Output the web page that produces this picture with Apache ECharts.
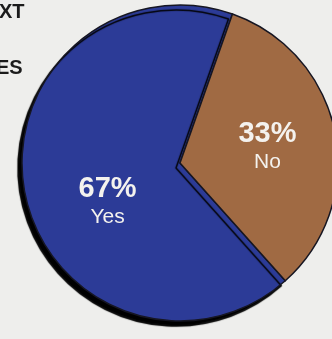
<!DOCTYPE html>
<html>
<head>
<meta charset="utf-8">
<style>
  html, body { margin: 0; padding: 0; background: #EEEEEC; }
  #chart { width: 332px; height: 339px; }
</style>
<script src="https://cdn.jsdelivr.net/npm/echarts@6/dist/echarts.min.js"></script>
</head>
<body>
<div id="chart"></div>
<script>
// Survey answers
const categories = ['Yes', 'No'];
const shares = [67, 33];
const sliceColors = ['#2C3B97', '#A06A43'];
// per-slice nudge of the label block inside its slice
const labelNudge = [[8, 22], [7, -1]];

const chart = echarts.init(document.getElementById('chart'), null, { renderer: 'canvas' });

const font = '"Liberation Sans", Arial, Helvetica, sans-serif';

chart.setOption({
  backgroundColor: '#EEEEEC',
  animation: false,
  graphic: [
    { type: 'text', left: -1, top: 2,
      style: { text: 'XT', fill: '#1b1b1b', font: 'bold 20px ' + font } },
    { type: 'text', left: -4, top: 58,
      style: { text: 'ES', fill: '#1b1b1b', font: 'bold 20px ' + font } }
  ],
  series: [{
    type: 'pie',
    center: [180, 163],
    radius: 158,
    startAngle: -48.2,
    clockwise: true,
    silent: true,
    itemStyle: {
      borderColor: '#161622',
      borderWidth: 1.5
    },
    label: {
      position: 'inside',
      formatter: p => '{pct|' + p.value + '%}\n{name|' + p.name + '}',
      rich: {
        pct: { fontFamily: font, fontWeight: 'bold', fontSize: 29, color: '#F4F2EE', lineHeight: 32, align: 'center' },
        name: { fontFamily: font, fontSize: 21, color: '#F4F2EE', lineHeight: 24, align: 'center' }
      }
    },
    labelLine: { show: false },
    data: categories.map((name, i) => ({
      name: name,
      value: shares[i],
      // the large slice is drawn first and carries the drop shadow,
      // so the smaller slice painted after it hides the shadow's inner edge
      itemStyle: i === 0
        ? { color: sliceColors[i], shadowColor: '#000', shadowBlur: 1, shadowOffsetX: -4, shadowOffsetY: 5 }
        : { color: sliceColors[i] },
      label: { offset: labelNudge[i] }
    }))
  }]
});
</script>
</body>
</html>
